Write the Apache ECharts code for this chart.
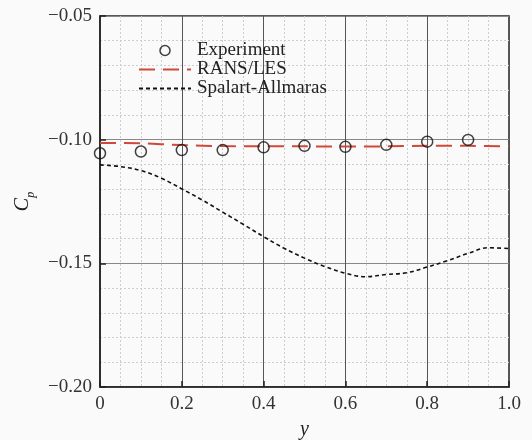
<!DOCTYPE html>
<html>
<head>
<meta charset="utf-8">
<script src="https://cdn.jsdelivr.net/npm/echarts@6/dist/echarts.min.js"></script>
<style>html,body{margin:0;padding:0;background:#fafafa;}#c{width:532px;height:440px;}</style>
</head>
<body>
<div id="c"></div>
<script>
const expX = [0, 0.1, 0.2, 0.3, 0.4, 0.5, 0.6, 0.7, 0.8, 0.9];
const expY = [-0.1055, -0.1048, -0.1042, -0.1042, -0.1031, -0.1025, -0.1029, -0.1021, -0.1008, -0.1001];
const ransX = [0, 0.1, 0.2, 0.3, 0.4, 0.5, 0.6, 0.7, 0.8, 0.9, 1.0];
const ransY = [-0.1013, -0.1015, -0.1022, -0.1026, -0.1027, -0.1027, -0.1028, -0.1027, -0.1025, -0.1025, -0.1027];
const saX = [0, 0.05, 0.1, 0.15, 0.2, 0.25, 0.3, 0.35, 0.4, 0.45, 0.5, 0.55, 0.6, 0.65, 0.7, 0.75, 0.8, 0.85, 0.9, 0.95, 1.0];
const saY = [-0.1102, -0.1109, -0.1125, -0.1156, -0.1199, -0.1244, -0.1293, -0.1342, -0.1392, -0.1439, -0.1479, -0.1513, -0.1540, -0.1554, -0.1545, -0.1538, -0.1515, -0.1489, -0.1460, -0.1437, -0.1440];
const xTicks = ['0', '0.2', '0.4', '0.6', '0.8', '1.0'];
const seriesNames = ['Experiment', 'RANS/LES', 'Spalart-Allmaras'];

const FONT = "'Liberation Serif', 'Times New Roman', serif";
const zip = (a, b) => a.map((v, i) => [v, b[i]]);

const chart = echarts.init(document.getElementById('c'));
chart.setOption({
  backgroundColor: '#fafafa',
  animation: false,
  textStyle: { fontFamily: FONT },
  grid: { left: 100, right: 23, top: 16, bottom: 53, show: true, borderColor: '#222', borderWidth: 1.5,
    backgroundColor: 'transparent', outerBoundsMode: 'none', containLabel: false },
  legend: {
    orient: 'vertical', left: 133, top: 36,
    itemWidth: 52, itemHeight: 10, itemGap: 0,
    textStyle: { fontFamily: FONT, fontSize: 19, color: '#222', lineHeight: 17, padding: [0, 0, 0, 1] },
    data: [
      { name: seriesNames[0], icon: 'circle', itemStyle: { color: 'rgba(0,0,0,0)', borderColor: '#111', borderWidth: 1.5 } },
      { name: seriesNames[1], itemStyle: { opacity: 0 } },
      { name: seriesNames[2], itemStyle: { opacity: 0 } }
    ]
  },
  xAxis: {
    type: 'value', min: 0, max: 1, interval: 0.2,
    name: 'y', nameLocation: 'middle', nameGap: 33,
    nameTextStyle: { fontFamily: FONT, fontSize: 20, fontStyle: 'italic', color: '#222' },
    axisLine: { show: true, lineStyle: { color: '#222', width: 1.5 } },
    axisTick: { show: true, inside: true, length: 6, lineStyle: { color: '#222', width: 1.5 } },
    axisLabel: { margin: 8, fontFamily: FONT, fontSize: 19, color: '#333',
      formatter: v => xTicks[Math.round(v / 0.2)] },
    splitLine: { show: true, lineStyle: { color: '#555', width: 1 } },
    minorTick: { show: false, splitNumber: 4 },
    minorSplitLine: { show: true, lineStyle: { color: '#cdcdcd', type: [2, 2], width: 1 } }
  },
  yAxis: {
    type: 'value', min: -0.2, max: -0.05, interval: 0.05,
    name: '{c|C}{p|p}', nameLocation: 'middle', nameGap: 55, nameRotate: 90,
    nameTextStyle: {
      color: '#222',
      rich: {
        c: { fontFamily: FONT, fontSize: 20, fontStyle: 'italic', color: '#222', lineHeight: 24, verticalAlign: 'top' },
        p: { fontFamily: FONT, fontSize: 12, fontStyle: 'italic', color: '#222', lineHeight: 24, verticalAlign: 'bottom', padding: [12, 0, 0, 0] }
      }
    },
    axisLine: { show: true, lineStyle: { color: '#222', width: 1.5 } },
    axisTick: { show: true, inside: true, length: 6, lineStyle: { color: '#222', width: 1.5 } },
    axisLabel: { margin: 8, fontFamily: FONT, fontSize: 19, color: '#333',
      formatter: v => v.toFixed(2).replace('-', '\u2212') },
    splitLine: { show: true, lineStyle: { color: '#888', width: 1 } },
    minorTick: { show: false, splitNumber: 5 },
    minorSplitLine: { show: true, lineStyle: { color: '#cdcdcd', type: [2, 2], width: 1 } }
  },
  series: [
    {
      name: seriesNames[1], type: 'line', data: zip(ransX, ransY), smooth: 0.3,
      showSymbol: false, symbol: 'none',
      lineStyle: { color: '#d0483a', width: 2, type: [16, 8] },
      itemStyle: { color: '#d0483a' }, z: 3
    },
    {
      name: seriesNames[2], type: 'line', data: zip(saX, saY), smooth: 0.4,
      showSymbol: false, symbol: 'none',
      lineStyle: { color: '#111', width: 1.6, type: [4, 3] },
      itemStyle: { color: '#111' }, z: 3
    },
    {
      name: seriesNames[0], type: 'scatter', data: zip(expX, expY),
      symbol: 'circle', symbolSize: 11,
      itemStyle: { color: 'rgba(0,0,0,0)', borderColor: '#111', borderWidth: 1.5 }, z: 4
    }
  ]
});
</script>
</body>
</html>
